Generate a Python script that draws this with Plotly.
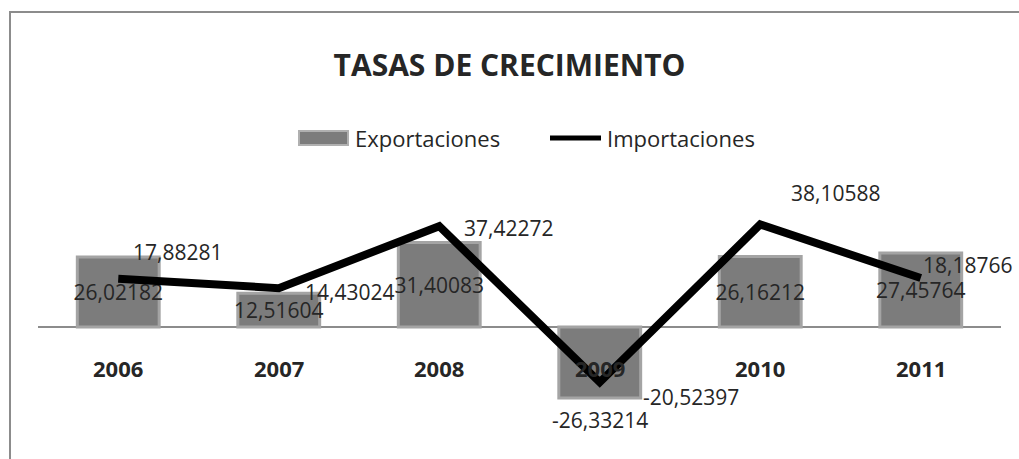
import plotly.graph_objects as go

years = ["2006", "2007", "2008", "2009", "2010", "2011"]
exportaciones = [26.02182, 12.51604, 31.40083, -26.33214, 26.16212, 27.45764]
importaciones = [17.88281, 14.43024, 37.42272, -20.52397, 38.10588, 18.18766]

# label offsets (px) for import labels, style only
imp_xshift = [13, 24, 23, 41, 29, 0]
imp_yshift = [27, -4, -2, -15, 31, 13]


def fmt(v):
    return f"{v:.5f}".replace(".", ",")


FONT = "Open Sans"
TXT = "#262626"
W, H = 1019, 459
ML, MR, MT, MB = 38, 18, 180, 20
PW, PH = W - ML - MR, H - MT - MB


def px(x):  # pixel -> paper x
    return (x - ML) / PW


def py(y):  # pixel -> paper y
    return (H - MB - y) / PH


fig = go.Figure()
fig.add_trace(go.Bar(
    x=years, y=exportaciones, name="Exportaciones", showlegend=False,
    marker=dict(color="#7c7c7c", line=dict(color="#a4a4a4", width=3)),
    text=[fmt(v) if v > 0 else "" for v in exportaciones],
    textposition="inside",
    insidetextanchor="middle", textangle=0, constraintext="none",
    insidetextfont=dict(family=FONT, size=21, color=TXT),
    cliponaxis=False,
))
fig.add_trace(go.Scatter(
    x=years, y=importaciones, name="Importaciones", mode="lines",
    showlegend=False,
    line=dict(color="black", width=8), cliponaxis=False,
))

# negative export labels sit below the bar end
for i, v in enumerate(exportaciones):
    if v < 0:
        fig.add_annotation(x=i, y=v, text=fmt(v), showarrow=False,
                           yanchor="middle", yshift=-22,
                           font=dict(family=FONT, size=21, color=TXT))

# category axis: annotations take the category's serial number
for i, (v, dx, dy) in enumerate(zip(importaciones, imp_xshift, imp_yshift)):
    fig.add_annotation(x=i, y=v, text=fmt(v), showarrow=False, xanchor="left",
                       yanchor="middle", xshift=dx, yshift=dy,
                       font=dict(family=FONT, size=21, color=TXT))

for i, yr in enumerate(years):
    fig.add_annotation(x=i, y=0, text=f"<b>{yr}</b>", showarrow=False,
                       yanchor="middle", yshift=-41,
                       font=dict(family=FONT, size=22, color=TXT))

# chart frame
fig.add_shape(type="rect", xref="paper", yref="paper",
              x0=px(10), x1=px(1040), y0=py(480), y1=py(12),
              line=dict(color="#8c8c8c", width=2), layer="below")

# legend (drawn to match the wide bar swatch)
fig.add_shape(type="rect", xref="paper", yref="paper",
              x0=px(299), x1=px(348), y0=py(145), y1=py(131),
              fillcolor="#7c7c7c", line=dict(color="#b0b0b0", width=2))
fig.add_annotation(xref="paper", yref="paper", x=px(353), y=py(138),
                   text="Exportaciones", showarrow=False, xanchor="left",
                   yanchor="middle", font=dict(family=FONT, size=22, color=TXT))
fig.add_shape(type="line", xref="paper", yref="paper",
              x0=px(550), x1=px(601), y0=py(138), y1=py(138),
              line=dict(color="black", width=5))
fig.add_annotation(xref="paper", yref="paper", x=px(605), y=py(138),
                   text="Importaciones", showarrow=False, xanchor="left",
                   yanchor="middle", font=dict(family=FONT, size=22, color=TXT))

fig.update_layout(
    width=W, height=H,
    margin=dict(l=ML, r=MR, t=MT, b=MB),
    paper_bgcolor="white", plot_bgcolor="white",
    font=dict(family=FONT, size=21, color=TXT),
    title=dict(text="<b>TASAS DE CRECIMIENTO</b>", x=0.5, xanchor="center",
               y=1 - 65 / H, yanchor="middle",
               font=dict(family=FONT, size=30, color=TXT)),
    bargap=0.49,
    showlegend=False,
    xaxis=dict(type="category", range=[-0.5, 5.5], showticklabels=False,
               showgrid=False, zeroline=False, showline=False, ticks=""),
    yaxis=dict(range=[-41.6, 54.6], showticklabels=False, showgrid=False,
               zeroline=True, zerolinecolor="#8c8c8c", zerolinewidth=2,
               showline=False, ticks=""),
)

fig.write_html("out.html",
               config={"displayModeBar": False},
               post_script="document.body.style.margin='0';"
                           "document.body.style.overflow='hidden';")
